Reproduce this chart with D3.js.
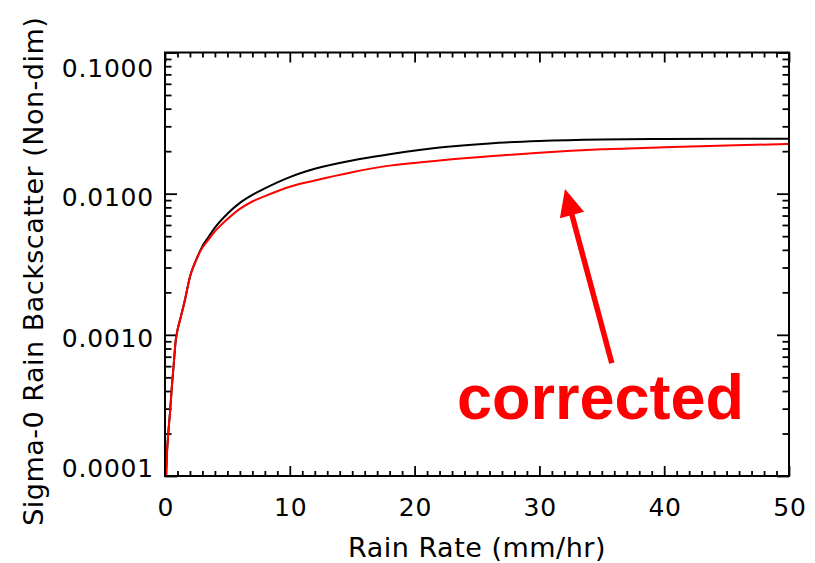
<!DOCTYPE html>
<html>
<head>
<meta charset="utf-8">
<script src="https://cdn.jsdelivr.net/npm/d3@7"></script>
<style>
  html, body { margin: 0; padding: 0; background: #fff; }
  svg { display: block; }
  .tick text { font-family: "DejaVu Sans", sans-serif; }
</style>
</head>
<body>
<svg id="chart" width="815" height="563"></svg>
<script>
// Rain rate samples (mm/hr) and sigma-0 rain backscatter (non-dimensional)
const rainRate = [0.05, 0.15, 0.25, 0.4, 0.55, 0.7, 0.85, 1, 1.25, 1.6, 2, 2.5, 3, 3.5, 4, 5, 6, 7, 8, 10, 12, 15, 18, 22, 26, 30, 35, 40, 45, 50];
const sigmaOriginal = [8e-5, 1.4e-4, 1.95e-4, 2.8e-4, 4.3e-4, 6.2e-4, 9.0e-4, 1.08e-3, 1.32e-3, 1.77e-3, 2.58e-3, 3.4e-3, 4.25e-3, 4.95e-3, 5.75e-3, 7.2e-3, 8.6e-3, 9.8e-3, 0.0109, 0.0131, 0.0150, 0.0172, 0.0190, 0.0212, 0.0227, 0.0236, 0.0242, 0.0244, 0.0245, 0.0245];
const sigmaCorrected = [8e-5, 1.4e-4, 1.95e-4, 2.8e-4, 4.3e-4, 6.2e-4, 9.0e-4, 1.08e-3, 1.32e-3, 1.77e-3, 2.58e-3, 3.4e-3, 4.15e-3, 4.75e-3, 5.4e-3, 6.6e-3, 7.8e-3, 8.8e-3, 9.6e-3, 0.0112, 0.0124, 0.0142, 0.0158, 0.0172, 0.0184, 0.0195, 0.0206, 0.0213, 0.0219, 0.0225];

const xTicks = [0, 10, 20, 30, 40, 50];
const yTicks = [1e-4, 1e-3, 1e-2, 1e-1];
const yTickLabels = ["0.0001", "0.0010", "0.0100", "0.1000"];

const xTitle = "Rain Rate (mm/hr)";
const yTitle = "Sigma-0 Rain Backscatter (Non-dim)";

// Annotation: label and arrow, in data coordinates [rain rate, sigma-0]
const noteText = "corrected";
const noteTextAt = [34.9, 2.54e-4];
const arrowTail = [35.8, 6.3e-4];
const arrowTip = [32.05, 0.0108];

const svg = d3.select("#chart");
const W = 815, H = 563;
const margin = { top: 52.5, right: 26, bottom: 87, left: 165 };
const plotLeft = margin.left, plotRight = W - margin.right;
const plotTop = margin.top, plotBottom = H - margin.bottom;

svg.append("rect").attr("width", W).attr("height", H).attr("fill", "#fff");

const x = d3.scaleLinear().domain([0, 50]).range([plotLeft, plotRight]);
const y = d3.scaleLog().domain([1e-4, 1e-1]).range([plotBottom, plotTop]);

const xMinor = d3.range(0, 51).filter(v => v % 10 !== 0);
const yMinor = [];
[1e-4, 1e-3, 1e-2].forEach(d => { for (let k = 2; k <= 9; k++) yMinor.push(k * d); });

const tickFont = 25, tickSpacing = 0.8;

function styleAxis(g) {
  g.select(".domain").remove();
  g.selectAll(".tick line").attr("stroke", "#000").attr("stroke-width", 1.8);
  g.selectAll(".tick text")
    .attr("fill", "#000")
    .attr("font-size", tickFont)
    .style("letter-spacing", tickSpacing + "px");
}

// Bottom axis: inward ticks with labels
const gx = svg.append("g").attr("transform", `translate(0,${plotBottom})`)
  .call(d3.axisBottom(x).tickValues(xTicks).tickSizeInner(-10).tickSizeOuter(0).tickPadding(22).tickFormat(d3.format("d")))
  .call(styleAxis);
gx.selectAll(".tick text").attr("dx", tickSpacing / 2);
svg.append("g").attr("transform", `translate(0,${plotBottom})`)
  .call(d3.axisBottom(x).tickValues(xMinor).tickSizeInner(-5).tickSizeOuter(0).tickFormat(""))
  .call(styleAxis);

// Top axis: mirrored ticks only
svg.append("g").attr("transform", `translate(0,${plotTop})`)
  .call(d3.axisTop(x).tickValues(xTicks).tickSizeInner(-10).tickSizeOuter(0).tickFormat(""))
  .call(styleAxis);
svg.append("g").attr("transform", `translate(0,${plotTop})`)
  .call(d3.axisTop(x).tickValues(xMinor).tickSizeInner(-5).tickSizeOuter(0).tickFormat(""))
  .call(styleAxis);

// Left axis: inward ticks with labels kept inside the frame height
const gy = svg.append("g").attr("transform", `translate(${plotLeft},0)`)
  .call(d3.axisLeft(y).tickValues(yTicks).tickSizeInner(-12).tickSizeOuter(0).tickPadding(11)
    .tickFormat((d, i) => yTickLabels[i]))
  .call(styleAxis);
gy.selectAll(".tick text")
  .attr("dy", null)
  .attr("y", d => {
    const ty = y(d);
    const base = Math.min(Math.max(ty + 12, plotTop + 23.5), plotBottom);
    return base - ty;
  });
svg.append("g").attr("transform", `translate(${plotLeft},0)`)
  .call(d3.axisLeft(y).tickValues(yMinor).tickSizeInner(-6.5).tickSizeOuter(0).tickFormat(""))
  .call(styleAxis);

// Right axis: mirrored ticks only
svg.append("g").attr("transform", `translate(${plotRight},0)`)
  .call(d3.axisRight(y).tickValues(yTicks).tickSizeInner(-12).tickSizeOuter(0).tickFormat(""))
  .call(styleAxis);
svg.append("g").attr("transform", `translate(${plotRight},0)`)
  .call(d3.axisRight(y).tickValues(yMinor).tickSizeInner(-6.5).tickSizeOuter(0).tickFormat(""))
  .call(styleAxis);

// Curves, clipped to the plot frame
svg.append("clipPath").attr("id", "plot-clip")
  .append("rect").attr("x", plotLeft).attr("y", plotTop)
  .attr("width", plotRight - plotLeft).attr("height", plotBottom - plotTop);

const line = (vals) => d3.line()
  .x((d, i) => x(rainRate[i]))
  .y(d => y(d))
  .curve(d3.curveMonotoneX)(vals);

const plot = svg.append("g").attr("clip-path", "url(#plot-clip)");
plot.append("path").attr("d", line(sigmaOriginal))
  .attr("fill", "none").attr("stroke", "#000").attr("stroke-width", 2);
plot.append("path").attr("d", line(sigmaCorrected))
  .attr("fill", "none").attr("stroke", "#ff0000").attr("stroke-width", 2);

// Frame
svg.append("rect")
  .attr("x", plotLeft).attr("y", plotTop)
  .attr("width", plotRight - plotLeft).attr("height", plotBottom - plotTop)
  .attr("fill", "none").attr("stroke", "#000").attr("stroke-width", 2);

// Axis titles
svg.append("text")
  .attr("x", (plotLeft + plotRight) / 2).attr("y", 557)
  .attr("text-anchor", "middle")
  .attr("font-family", "DejaVu Sans, sans-serif").attr("font-size", 27)
  .style("letter-spacing", "0.5px")
  .text(xTitle);

svg.append("text")
  .attr("transform", `translate(43,${(plotTop + plotBottom) / 2 + 7}) rotate(-90)`)
  .attr("text-anchor", "middle")
  .attr("font-family", "DejaVu Sans, sans-serif").attr("font-size", 27)
  .style("letter-spacing", "0.5px")
  .text(yTitle);

// Annotation arrow
const ax0 = x(arrowTail[0]), ay0 = y(arrowTail[1]);
const ax1 = x(arrowTip[0]), ay1 = y(arrowTip[1]);
const ang = Math.atan2(ay1 - ay0, ax1 - ax0);
const headLen = 27, headHalf = 12.5;
const bx = ax1 - headLen * Math.cos(ang), by = ay1 - headLen * Math.sin(ang);
const px = -Math.sin(ang), py = Math.cos(ang);
svg.append("line")
  .attr("x1", ax0).attr("y1", ay0)
  .attr("x2", bx + 2 * Math.cos(ang)).attr("y2", by + 2 * Math.sin(ang))
  .attr("stroke", "#ff0000").attr("stroke-width", 5.5);
svg.append("path")
  .attr("d", `M${ax1},${ay1}L${bx + headHalf * px},${by + headHalf * py}L${bx - headHalf * px},${by - headHalf * py}Z`)
  .attr("fill", "#ff0000");

svg.append("text")
  .attr("x", x(noteTextAt[0])).attr("y", y(noteTextAt[1]))
  .attr("text-anchor", "middle")
  .attr("font-family", "Liberation Sans, Arial, sans-serif").attr("font-weight", "bold")
  .attr("font-size", 63).attr("fill", "#ff0000")
  .text(noteText);
</script>
</body>
</html>
